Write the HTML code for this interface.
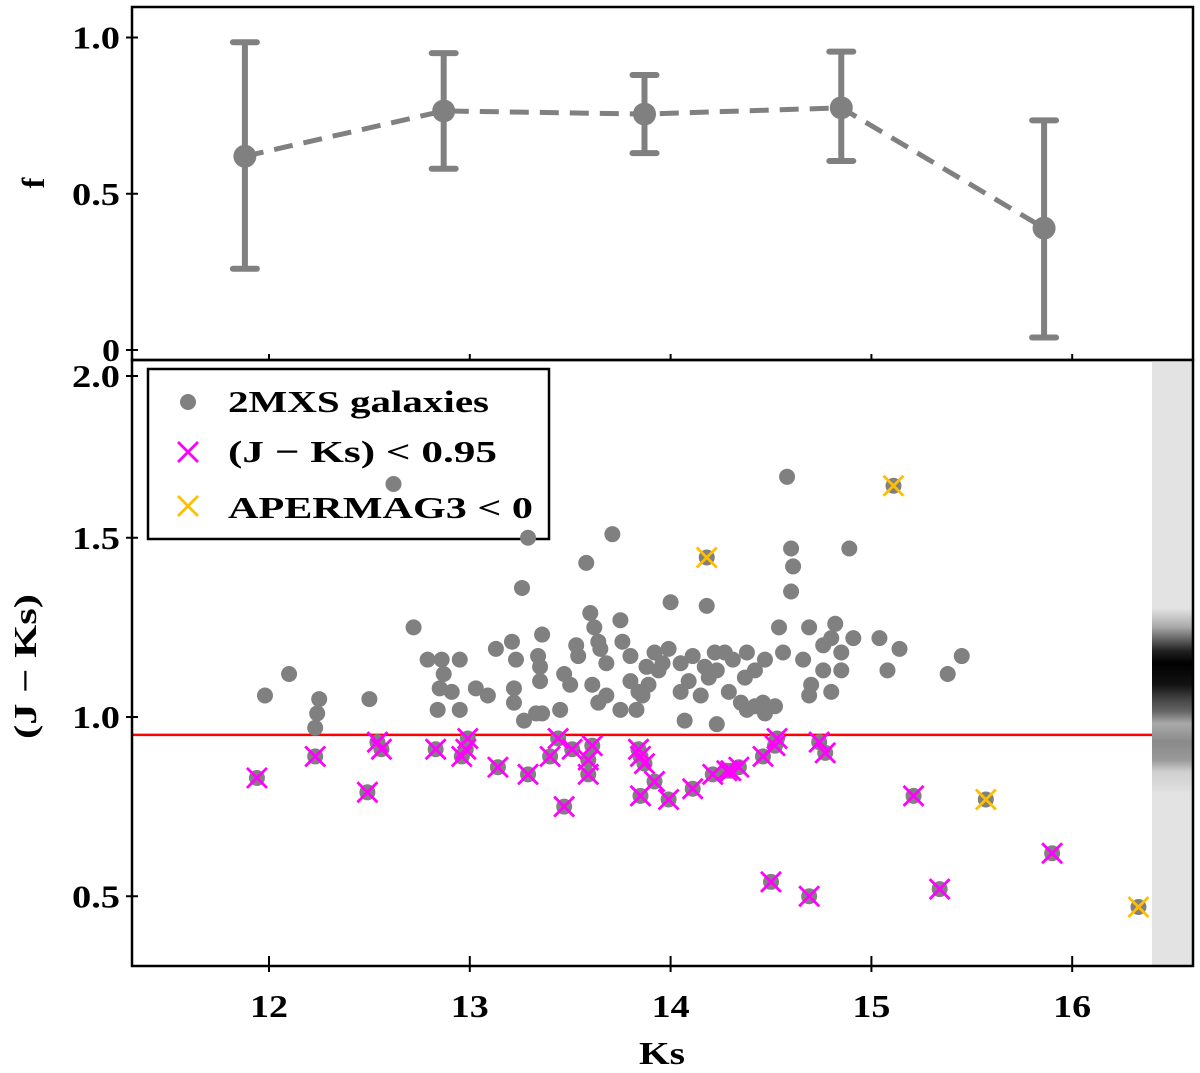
<!DOCTYPE html>
<html><head><meta charset="utf-8"><style>
html,body{margin:0;padding:0;background:#fff}
svg{display:block}
text{font-family:"Liberation Serif","DejaVu Serif",serif;font-weight:bold;fill:#000}
</style></head><body>
<svg id="chart" width="1200" height="1073" viewBox="0 0 1200 1073" xmlns="http://www.w3.org/2000/svg">
<defs>
<linearGradient id="bandGrad" x1="0" y1="360" x2="0" y2="966" gradientUnits="userSpaceOnUse">
<stop offset="0" stop-color="#e3e3e3"/>
<stop offset="0.41" stop-color="#e3e3e3"/>
<stop offset="0.44" stop-color="#aaaaaa"/>
<stop offset="0.48" stop-color="#222"/>
<stop offset="0.50" stop-color="#000"/>
<stop offset="0.535" stop-color="#111"/>
<stop offset="0.56" stop-color="#444"/>
<stop offset="0.58" stop-color="#666"/>
<stop offset="0.60" stop-color="#aaa"/>
<stop offset="0.63" stop-color="#8a8a8a"/>
<stop offset="0.66" stop-color="#999"/>
<stop offset="0.68" stop-color="#d0d0d0"/>
<stop offset="0.70" stop-color="#d8d8d8"/>
<stop offset="0.715" stop-color="#e3e3e3"/>
<stop offset="1" stop-color="#e3e3e3"/>
</linearGradient>
</defs>
<g id="top-panel"></g>
<g id="bottom-panel"></g>
</svg>
<script>
// ---- top panel data ----
const binKs = [11.88, 12.87, 13.87, 14.85, 15.86];
const fVals = [0.62, 0.765, 0.755, 0.775, 0.39];
const fLow = [0.26, 0.58, 0.63, 0.605, 0.04];
const fHigh = [0.985, 0.95, 0.88, 0.955, 0.735];
const fTicks = ["0", "0.5", "1.0"];
const fTickVals = [0, 0.5, 1.0];
// ---- bottom panel data ----
const galKs = [11.98,12.10,12.25,12.24,12.23,12.62,12.50,12.72,12.79,12.86,12.87,12.85,12.84,12.95,12.91,13.03,13.09,12.95,13.13,13.21,13.23,13.26,13.29,13.22,13.22,13.27,13.33,13.36,13.34,13.35,13.36,13.35,13.45,13.47,13.50,13.53,13.54,13.58,13.60,13.62,13.64,13.68,13.65,13.68,13.61,13.64,13.71,13.75,13.75,13.76,13.80,13.80,13.84,13.86,13.83,13.89,13.88,13.92,13.94,13.96,13.99,14.00,14.05,14.05,14.09,14.07,14.11,14.15,14.17,14.18,14.19,14.22,14.23,14.23,14.27,14.29,14.31,14.37,14.38,14.35,14.38,14.42,14.42,14.47,14.46,14.52,14.47,14.56,14.54,14.60,14.61,14.60,14.58,14.66,14.69,14.70,14.69,14.76,14.76,14.80,14.80,14.82,14.85,14.85,14.89,14.91,15.04,15.08,15.14,15.38,15.45];
const galJK = [1.06,1.12,1.05,1.01,0.97,1.65,1.05,1.25,1.16,1.16,1.12,1.08,1.02,1.16,1.07,1.08,1.06,1.02,1.19,1.21,1.16,1.36,1.50,1.08,1.04,0.99,1.01,1.01,1.17,1.14,1.23,1.10,1.02,1.12,1.09,1.20,1.17,1.43,1.29,1.25,1.21,1.15,1.19,1.06,1.09,1.04,1.51,1.27,1.02,1.21,1.17,1.10,1.07,1.06,1.02,1.09,1.14,1.18,1.13,1.15,1.19,1.32,1.15,1.07,1.10,0.99,1.17,1.06,1.14,1.31,1.11,1.18,1.13,0.98,1.18,1.07,1.16,1.11,1.18,1.04,1.02,1.03,1.13,1.16,1.04,1.03,1.01,1.18,1.25,1.47,1.42,1.35,1.67,1.16,1.06,1.09,1.25,1.13,1.20,1.22,1.07,1.26,1.13,1.18,1.47,1.22,1.22,1.13,1.19,1.12,1.17];
const blueKs = [11.94,12.23,12.49,12.54,12.56,12.83,12.96,12.98,12.99,13.14,13.29,13.40,13.44,13.47,13.51,13.59,13.59,13.61,13.84,13.85,13.85,13.87,13.92,13.99,14.11,14.21,14.28,14.30,14.34,14.46,14.52,14.53,14.74,14.77,14.50,14.69,15.21,15.34,15.90];
const blueJK = [0.83,0.89,0.79,0.93,0.91,0.91,0.89,0.91,0.94,0.86,0.84,0.89,0.94,0.75,0.91,0.88,0.84,0.92,0.91,0.89,0.78,0.87,0.82,0.77,0.80,0.84,0.85,0.85,0.86,0.89,0.92,0.94,0.93,0.90,0.54,0.50,0.78,0.52,0.62];
const apKs = [14.18, 15.11, 15.57, 16.33];
const apJK = [1.445, 1.645, 0.77, 0.47];
const cutJK = [0.95];
const xTicks = ["12", "13", "14", "15", "16"];
const xTickVals = [12, 13, 14, 15, 16];
const yTicks = ["0.5", "1.0", "1.5", "2.0"];
const yTickVals = [0.5, 1.0, 1.5, 2.0];

const NS = "http://www.w3.org/2000/svg";
const L = 132, R = 1193, TT = 7, TB = 360, BT = 360, BB = 966;
function X(k){ return 269 + (k - 12) * 200.8; }
function Yf(f){ return 350 - f * 312.5; }
function Yb(v){ return 717 - (v - 1) * 358.5; }
function mk(tag, attrs, parent){
  const e = document.createElementNS(NS, tag);
  for (const k in attrs) e.setAttribute(k, attrs[k]);
  parent.appendChild(e); return e;
}
function tw(s){ return s.length === 1 ? 18 : (s.length === 2 ? 38 : 48); }
const topG = document.getElementById('top-panel');
const botG = document.getElementById('bottom-panel');

// ---- top panel ----
let pts = binKs.map((k,i)=>X(k)+','+Yf(fVals[i])).join(' ');
let ln = mk('polyline',{points:pts,fill:'none',stroke:'#808080','stroke-width':5,'stroke-dasharray':'19,11'},topG);


binKs.forEach((k,i)=>{
  const g = mk('g',{},topG);
  
  
  const x = X(k);
  mk('line',{x1:x,x2:x,y1:Yf(fLow[i]),y2:Yf(fHigh[i]),stroke:'#808080','stroke-width':6},g);
  mk('line',{x1:x-12,x2:x+12,y1:Yf(fLow[i]),y2:Yf(fLow[i]),stroke:'#808080','stroke-width':6,'stroke-linecap':'round'},g);
  mk('line',{x1:x-12,x2:x+12,y1:Yf(fHigh[i]),y2:Yf(fHigh[i]),stroke:'#808080','stroke-width':6,'stroke-linecap':'round'},g);
  mk('circle',{cx:x,cy:Yf(fVals[i]),r:11.5,fill:'#808080'},g);
});
fTickVals.forEach((v,i)=>{
  const y = Yf(v);
  mk('line',{x1:L-6,x2:L+6,y1:y,y2:y,stroke:'#000','stroke-width':2},topG);
  const t = mk('text',{x:L-12-tw(fTicks[i]),y:y+11,'font-size':32,textLength:tw(fTicks[i]),lengthAdjust:'spacingAndGlyphs'},topG);
  t.textContent = fTicks[i];
  
  
});
xTickVals.forEach(v=>{ mk('line',{x1:X(v),x2:X(v),y1:TB-6,y2:TB,stroke:'#000','stroke-width':2},topG); });
let fr = mk('rect',{x:L,y:TT,width:R-L,height:TB-TT,fill:'none',stroke:'#000','stroke-width':2.5},topG);


let fl = mk('text',{x:0,y:0,'text-anchor':'middle','font-size':32,transform:'translate(44,183) rotate(-90)'},topG);
fl.textContent='f';



// ---- bottom panel ----
let band = mk('rect',{x:1152,y:BT,width:R-1152,height:BB-BT,fill:'url(#bandGrad)'},botG);


let cut = mk('line',{x1:L,x2:1152,y1:Yb(cutJK[0]),y2:Yb(cutJK[0]),stroke:'#ff0000','stroke-width':2.5},botG);



// legend (transparent background; points drawn over it)
const lg = mk('g',{},botG);


mk('rect',{x:148,y:369,width:401,height:170,fill:'none',stroke:'#000','stroke-width':2.5},lg);
const le1 = mk('g',{},lg);


mk('circle',{cx:188,cy:402,r:8,fill:'#808080'},le1);
let t1 = mk('text',{x:228,y:412,'font-size':31,textLength:261,lengthAdjust:'spacingAndGlyphs'},le1); t1.textContent='2MXS galaxies';
const le2 = mk('g',{},lg);


mk('path',{d:'M178,442L198,462M178,462L198,442',stroke:'#ff00ff','stroke-width':2.8},le2);
let t2 = mk('text',{x:228,y:462,'font-size':31,textLength:269,lengthAdjust:'spacingAndGlyphs'},le2); t2.textContent='(J − Ks) < 0.95';
const le3 = mk('g',{},lg);


mk('path',{d:'M178,496L198,516M178,516L198,496',stroke:'#ffbf00','stroke-width':2.8},le3);
let t3 = mk('text',{x:228,y:518,'font-size':31,textLength:305,lengthAdjust:'spacingAndGlyphs'},le3); t3.textContent='APERMAG3 < 0';

const allKs = galKs.concat(blueKs, apKs), allJK = galJK.concat(blueJK, apJK);
allKs.forEach((k,i)=>{
  const c = mk('circle',{cx:X(k),cy:Yb(allJK[i]),r:8,fill:'#808080'},botG);
  
  
});
function cross(k,v,col,name){
  const x=X(k), y=Yb(v), s=10;
  const p = mk('path',{d:`M${x-s},${y-s}L${x+s},${y+s}M${x-s},${y+s}L${x+s},${y-s}`,stroke:col,'stroke-width':2.8,fill:'none'},botG);
  
  
}
blueKs.forEach((k,i)=>cross(k,blueJK[i],'#ff00ff','blue-galaxy-cross'));
apKs.forEach((k,i)=>cross(k,apJK[i],'#ffbf00','apermag-cross'));
xTickVals.forEach((v,i)=>{
  const x = X(v);
  mk('line',{x1:x,x2:x,y1:BB-10,y2:BB+6,stroke:'#000','stroke-width':2},botG);
  const t = mk('text',{x:x-19,y:1017,'font-size':32,textLength:38,lengthAdjust:'spacingAndGlyphs'},botG);
  t.textContent = xTicks[i];
  
  
});
yTickVals.forEach((v,i)=>{
  const y = v===2.0 ? 376 : Yb(v);
  mk('line',{x1:L-6,x2:L+6,y1:y,y2:y,stroke:'#000','stroke-width':2},botG);
  const t = mk('text',{x:L-12-48,y:y+11,'font-size':32,textLength:48,lengthAdjust:'spacingAndGlyphs'},botG);
  t.textContent = yTicks[i];
  
  
});
let br = mk('rect',{x:L,y:BT,width:R-L,height:BB-BT,fill:'none',stroke:'#000','stroke-width':2.5},botG);


let xl = mk('text',{x:639,y:1064,'font-size':32,textLength:46,lengthAdjust:'spacingAndGlyphs'},botG);
xl.textContent='Ks';


let yl = mk('text',{x:-72,y:0,'font-size':32,textLength:145,lengthAdjust:'spacingAndGlyphs',transform:'translate(36,667) rotate(-90)'},botG);
yl.textContent='(J − Ks)';


</script>
</body></html>
